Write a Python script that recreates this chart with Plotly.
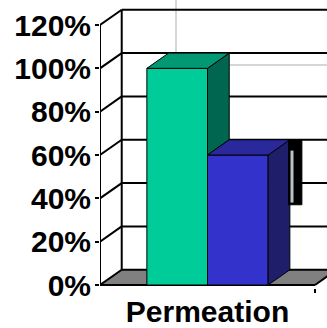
import plotly.graph_objects as go

# ---- data -------------------------------------------------------------
categories = ["Permeation"]
series_names = ["Control", "Treated"]
values = [100, 60]            # percent
minus_error = [0, 30]         # percent, lower error bar
y_tick_values = [0, 20, 40, 60, 80, 100, 120]
y_tick_labels = [f"{v}%" for v in y_tick_values]

# ---- style ------------------------------------------------------------
front_colors = ["#00CC99", "#3333CC"]
top_colors = ["#009973", "#29299C"]
side_colors = ["#006650", "#1E1E6B"]
FLOOR = "#808080"
FONT = dict(family="Liberation Sans, Arial, sans-serif", size=30, color="black", weight="bold")

BAR_W = 0.282      # width of one bar in category units
DX = 0.101         # depth offset (x, category units)
DY = 7.04          # depth offset (y, percent units)
X_MIN, X_MAX = -0.5, 0.5558
Y_MIN, Y_MAX = -1.385, 131.54

fig = go.Figure()

# front faces of the bars
lefts = []
for i, (name, v) in enumerate(zip(series_names, values)):
    offset = -BAR_W + i * BAR_W
    lefts.append(offset)
    fig.add_trace(go.Bar(
        x=[0], y=[v], name=name, width=[BAR_W], offset=offset,
        marker=dict(color=front_colors[i], line=dict(color="black", width=1)),
        showlegend=False, hoverinfo="skip",
    ))


def face(xs, ys, color):
    fig.add_trace(go.Scatter(
        x=xs + [xs[0]], y=ys + [ys[0]], mode="lines", fill="toself",
        fillcolor=color, line=dict(color="black", width=1),
        showlegend=False, hoverinfo="skip", cliponaxis=False,
    ))


# side and top faces, drawn back to front
for i, v in enumerate(values):
    x0 = lefts[i]
    x1 = x0 + BAR_W
    # part of the side face hidden by the next bar is left out
    base = values[i + 1] if i + 1 < len(values) and values[i + 1] < v else 0
    face([x1, x1, x1 + DX, x1 + DX], [base, v, v + DY, base + DY], side_colors[i])
    face([x0, x1, x1 + DX, x0 + DX], [v, v, v + DY, v + DY], top_colors[i])

# error bar on the last series
for i, err in enumerate(minus_error):
    if not err:
        continue
    v = values[i]
    ex0 = lefts[i] + BAR_W + DX - 0.006
    ex1 = ex0 + 0.062
    top, bot = v + DY, v - err + DY
    face([ex0, ex1, ex1, ex0], [bot, bot, top, top], "black")
    fig.add_trace(go.Scatter(
        x=[ex0 + 0.016, ex0 + 0.016], y=[top - 5, bot + 1], mode="lines",
        line=dict(color="#B8C0C8", width=3), showlegend=False, hoverinfo="skip",
    ))

# ---- walls, floor and gridlines (below the bars) -----------------------
shapes = []
black = dict(color="black", width=2)
# faint lines behind the chart
shapes.append(dict(type="line", xref="x", yref="y", layer="below",
                   x0=-0.1465, x1=-0.1465, y0=70, y1=Y_MAX + 5,
                   line=dict(color="#D6D6D6", width=2)))
shapes.append(dict(type="line", xref="x", yref="y", layer="below",
                   x0=0, x1=X_MAX + 0.1, y0=101.5, y1=101.5,
                   line=dict(color="#D6D6D6", width=2)))
# floor
shapes.append(dict(type="path", xref="x", yref="y", layer="below",
                   path=f"M {X_MIN},0 L {X_MIN + DX},{DY} L {0.5 + DX},{DY} L 0.5,0 Z",
                   fillcolor=FLOOR, line=dict(width=0)))
for v in y_tick_values:
    # back wall gridline
    shapes.append(dict(type="line", xref="x", yref="y", layer="below",
                       x0=X_MIN + DX, x1=X_MAX + 0.2, y0=v + DY, y1=v + DY, line=black))
    # side wall gridline
    shapes.append(dict(type="line", xref="x", yref="y", layer="below",
                       x0=X_MIN, x1=X_MIN + DX, y0=v, y1=v + DY, line=black))
# back-left edge and front value axis
shapes.append(dict(type="line", xref="x", yref="y", layer="below",
                   x0=X_MIN + DX, x1=X_MIN + DX, y0=DY, y1=y_tick_values[-1] + DY, line=black))
shapes.append(dict(type="line", xref="x", yref="y", layer="below",
                   x0=X_MIN, x1=X_MIN, y0=0, y1=y_tick_values[-1], line=black))
# floor front and right edges
shapes.append(dict(type="line", xref="x", yref="y", layer="below",
                   x0=X_MIN, x1=0.5, y0=0, y1=0, line=black))
shapes.append(dict(type="line", xref="x", yref="y", layer="below",
                   x0=0.5, x1=0.5 + DX, y0=0, y1=DY, line=black))

fig.update_layout(
    width=327, height=328, autosize=False,
    margin=dict(l=100, r=0, t=0, b=40, pad=0, autoexpand=False),
    paper_bgcolor="white", plot_bgcolor="white",
    barmode="overlay", showlegend=False,
    shapes=shapes,
    xaxis=dict(
        range=[X_MIN, X_MAX], showgrid=False, zeroline=False, showline=False,
        automargin=False,
        tickmode="array", tickvals=[0], ticktext=categories, ticks="",
        tickfont=FONT, ticklabelstandoff=3,
        minor=dict(tickmode="array", tickvals=[0.5], ticks="outside",
                   ticklen=4, tickwidth=2, tickcolor="black"),
    ),
    yaxis=dict(
        range=[Y_MIN, Y_MAX], showgrid=False, zeroline=False, showline=False,
        automargin=False,
        tickmode="array", tickvals=y_tick_values, ticktext=y_tick_labels,
        ticks="outside", ticklen=4, tickwidth=2, tickcolor="black",
        tickfont=FONT, ticklabelstandoff=-2,
    ),
)

fig.write_html("out.html")
